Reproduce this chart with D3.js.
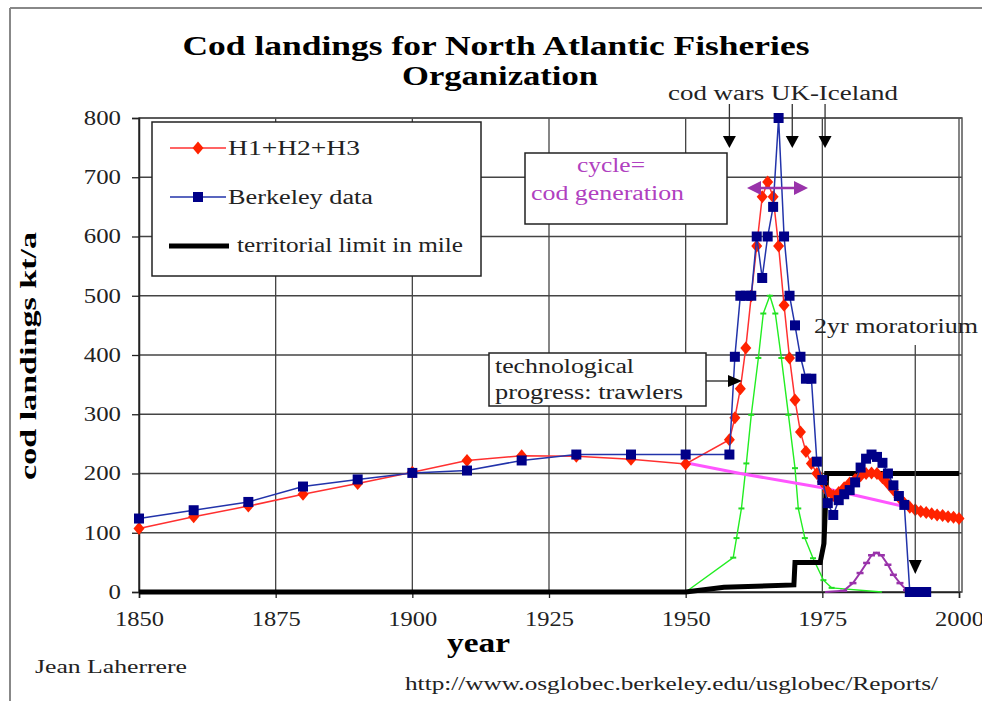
<!DOCTYPE html>
<html><head><meta charset="utf-8">
<script src="https://cdn.jsdelivr.net/npm/d3@7"></script>
<style>body{margin:0;background:#fff}svg{display:block}</style>
</head><body>
<svg id="c" width="982" height="701"></svg>
<script>
// ---------- data ----------
const xTicks = [1850, 1875, 1900, 1925, 1950, 1975, 2000];
const yTicks = [0, 100, 200, 300, 400, 500, 600, 700, 800];

const redYears = [1850,1860,1870,1880,1890,1900,1910,1920,1930,1940,1950,1958,1959,1960,1961,1962,1963,1964,1965,1966,1967,1968,1969,1970,1971,1972,1973,1974,1975,1976,1977,1978,1979,1980,1981,1982,1983,1984,1985,1986,1987,1988,1989,1990,1991,1992,1993,1994,1995,1996,1997,1998,1999,2000];
const redValues = [107,127,145,165,183,202,222,230,229,224,216,257,294,343,412,500,584,667,692,667,584,484,395,324,270,237,217,200,186,170,163,168,176,184,190,196,200,201,200,193,183,172,160,150,143,139,136,134,132,130,129,127,126,124];

const blueYears = [1850,1860,1870,1880,1890,1900,1910,1920,1930,1940,1950,1958,1959,1960,1961,1962,1963,1964,1965,1966,1967,1968,1969,1970,1971,1972,1973,1974,1975,1976,1977,1978,1979,1980,1981,1982,1983,1984,1985,1986,1987,1988,1989,1990,1991,1992,1993,1994];
const blueValues = [124,138,152,178,190,201,205,222,232,232,232,232,397,500,500,500,600,530,600,650,800,600,500,450,397,360,360,220,189,150,130,155,165,172,185,210,225,232,228,218,200,180,162,147,0,0,0,0];

const greenYears = [1950,1958.7,1959.3,1960.2,1961.1,1962.0,1963.3,1964.2,1965.4,1966.4,1967.5,1968.8,1970.0,1970.6,1971.8,1973.3,1975.2,1976.7,1985.9];
const greenValues = [0,58,91,141,217,299,395,470,500,470,395,299,209,141,91,57,20,7,0];

const purpleYears = [1975.5,1978.9,1980.6,1981.9,1983.1,1984.0,1984.9,1985.8,1987.0,1988.0,1989.2,1990.4,1991.5];
const purpleValues = [0,2,15,32,49,62,66,62,46,29,15,3,0];

const pinkYears = [1950,1960,1975,1985,1991];
const pinkValues = [218,200,176,155,142];

const limitYears = [1850,1950,1957,1969.8,1970,1974.6,1975.3,1975.8,2000];
const limitValues = [0,0,8,12,50,50,82,200,200];

const codWarYears = [1958, 1969.5, 1975.5];
const moratoriumYear = 1992;

// ---------- setup ----------
const svg = d3.select('#c');
const SERIF = "'Liberation Serif','Times New Roman',serif";
const x = d3.scaleLinear().domain([1850, 2000]).range([139, 959]);
const y = d3.scaleLinear().domain([0, 800]).range([592, 118]);
const zip = (a, b) => a.map((d, i) => [d, b[i]]);
const line = d3.line().x(d => x(d[0])).y(d => y(d[1]));
function fit(sel, w) { sel.attr('textLength', w).attr('lengthAdjust', 'spacingAndGlyphs'); return sel; }

// page frame
svg.append('line').attr('x1', 10).attr('x2', 982).attr('y1', 8).attr('y2', 8).attr('stroke', '#888').attr('stroke-width', 2);
svg.append('line').attr('x1', 10).attr('x2', 10).attr('y1', 8).attr('y2', 701).attr('stroke', '#888').attr('stroke-width', 2);

// grid
const g = svg.append('g');
g.selectAll('.vg').data(xTicks).join('line')
  .attr('x1', d => x(d)).attr('x2', d => x(d)).attr('y1', y(800)).attr('y2', y(0))
  .attr('stroke', '#444').attr('stroke-width', 1.3);
g.selectAll('.hg').data(yTicks).join('line')
  .attr('x1', x(1850)).attr('x2', x(2000) + 3).attr('y1', d => y(d)).attr('y2', d => y(d))
  .attr('stroke', '#444').attr('stroke-width', 1.3);
g.append('rect').attr('x', x(1850)).attr('y', y(800)).attr('width', x(2000) + 3 - x(1850)).attr('height', y(0) - y(800))
  .attr('fill', 'none').attr('stroke', '#555').attr('stroke-width', 1.5);

// axes
const ax = svg.append('g').attr('transform', `translate(0,${y(0)})`)
  .call(d3.axisBottom(x).tickValues(xTicks).tickFormat(d3.format('d')).tickSize(6).tickPadding(14));
const ay = svg.append('g').attr('transform', `translate(${x(1850)},0)`)
  .call(d3.axisLeft(y).tickValues(yTicks).tickSize(7).tickPadding(11));
[ax, ay].forEach(a => {
  a.select('.domain').attr('stroke', '#222').attr('stroke-width', 1.5);
  a.selectAll('.tick line').attr('stroke', '#222').attr('stroke-width', 1.3);
  a.selectAll('.tick text').attr('font-family', SERIF).attr('font-size', 20).attr('fill', '#222');
});
ax.selectAll('.tick text').each(function () { fit(d3.select(this), 49); });
ay.selectAll('.tick text').each(function (d) { fit(d3.select(this), String(d).length * 12.4); });

// series
const plot = svg.append('g');
// green
plot.append('path').datum(zip(greenYears, greenValues)).attr('d', line)
  .attr('fill', 'none').attr('stroke', '#22ee22').attr('stroke-width', 1.4);
plot.selectAll('.gm').data(zip(greenYears, greenValues).slice(1, -1)).join('line')
  .attr('x1', d => x(d[0]) - 3).attr('x2', d => x(d[0]) + 3).attr('y1', d => y(d[1])).attr('y2', d => y(d[1]))
  .attr('stroke', '#22dd22').attr('stroke-width', 2);
// purple
plot.append('path').datum(zip(purpleYears, purpleValues)).attr('d', line)
  .attr('fill', 'none').attr('stroke', '#9933aa').attr('stroke-width', 2);
plot.selectAll('.pm').data(zip(purpleYears, purpleValues).slice(1, -1)).join('line')
  .attr('x1', d => x(d[0]) - 3.5).attr('x2', d => x(d[0]) + 3.5).attr('y1', d => y(d[1])).attr('y2', d => y(d[1]))
  .attr('stroke', '#9933aa').attr('stroke-width', 2.5);
// pink
plot.append('path').datum(zip(pinkYears, pinkValues)).attr('d', line)
  .attr('fill', 'none').attr('stroke', '#ff55ff').attr('stroke-width', 3);
// territorial limit
plot.append('path').datum(zip(limitYears, limitValues)).attr('d', line)
  .attr('fill', 'none').attr('stroke', '#000').attr('stroke-width', 5).attr('stroke-linejoin', 'miter');
// red
const diamond = 'M0,-6.5L5.5,0L0,6.5L-5.5,0Z';
plot.append('path').datum(zip(redYears, redValues)).attr('d', line)
  .attr('fill', 'none').attr('stroke', '#ff3030').attr('stroke-width', 1.5);
plot.selectAll('.rm').data(zip(redYears, redValues)).join('path')
  .attr('d', diamond).attr('transform', d => `translate(${x(d[0])},${y(d[1])})`).attr('fill', '#ff2200');
// blue
plot.append('path').datum(zip(blueYears, blueValues)).attr('d', line)
  .attr('fill', 'none').attr('stroke', '#2233aa').attr('stroke-width', 1.5);
plot.selectAll('.bm').data(zip(blueYears, blueValues)).join('rect')
  .attr('x', d => x(d[0]) - 5).attr('y', d => y(d[1]) - 5).attr('width', 10).attr('height', 10).attr('fill', '#000088');

// ---------- annotations ----------
function head(gsel, tipX, tipY, dir, len, half, color) {
  let p;
  if (dir === 'down') p = [[tipX, tipY], [tipX - half, tipY - len], [tipX + half, tipY - len]];
  else if (dir === 'right') p = [[tipX, tipY], [tipX - len, tipY - half], [tipX - len, tipY + half]];
  else p = [[tipX, tipY], [tipX + len, tipY - half], [tipX + len, tipY + half]];
  gsel.append('path').attr('d', 'M' + p.join('L') + 'Z').attr('fill', color);
}
const ann = svg.append('g');
// title
fit(ann.append('text').attr('x', 496).attr('y', 55).attr('text-anchor', 'middle').attr('font-family', SERIF)
  .attr('font-weight', 'bold').attr('font-size', 27).text('Cod landings for North Atlantic Fisheries'), 627);
fit(ann.append('text').attr('x', 500).attr('y', 85).attr('text-anchor', 'middle').attr('font-family', SERIF)
  .attr('font-weight', 'bold').attr('font-size', 27).text('Organization'), 196);
// cod wars
fit(ann.append('text').attr('x', 668).attr('y', 100).attr('font-family', SERIF).attr('font-size', 20).attr('fill', '#222')
  .text('cod wars UK-Iceland'), 230);
codWarYears.forEach(yr => {
  const cx = x(yr);
  ann.append('line').attr('x1', cx).attr('x2', cx).attr('y1', 104).attr('y2', 140).attr('stroke', '#333').attr('stroke-width', 1.3);
  head(ann, cx, 148, 'down', 12, 6.5, '#000');
});
// legend
const lg = svg.append('g');
lg.append('rect').attr('x', 152).attr('y', 122).attr('width', 329).attr('height', 154)
  .attr('fill', '#fff').attr('stroke', '#222').attr('stroke-width', 1.5);
lg.append('line').attr('x1', 170).attr('x2', 226).attr('y1', 148).attr('y2', 148).attr('stroke', '#ff3030').attr('stroke-width', 1.5);
lg.append('path').attr('d', diamond).attr('transform', 'translate(198,148)').attr('fill', '#ff2200');
fit(lg.append('text').attr('x', 228).attr('y', 155).attr('font-family', SERIF).attr('font-size', 20).attr('fill', '#222').text('H1+H2+H3'), 132);
lg.append('line').attr('x1', 170).attr('x2', 226).attr('y1', 197).attr('y2', 197).attr('stroke', '#2233aa').attr('stroke-width', 1.5);
lg.append('rect').attr('x', 193).attr('y', 192).attr('width', 10).attr('height', 10).attr('fill', '#000088');
fit(lg.append('text').attr('x', 228).attr('y', 204).attr('font-family', SERIF).attr('font-size', 20).attr('fill', '#222').text('Berkeley data'), 145);
lg.append('line').attr('x1', 169).attr('x2', 229).attr('y1', 246).attr('y2', 246).attr('stroke', '#000').attr('stroke-width', 5);
fit(lg.append('text').attr('x', 237).attr('y', 252).attr('font-family', SERIF).attr('font-size', 20).attr('fill', '#222').text('territorial limit in mile'), 226);
// cycle box
ann.append('rect').attr('x', 525).attr('y', 153).attr('width', 202).attr('height', 71)
  .attr('fill', '#fff').attr('stroke', '#222').attr('stroke-width', 1.5);
fit(ann.append('text').attr('x', 611).attr('y', 172).attr('text-anchor', 'middle').attr('font-family', SERIF).attr('font-size', 20)
  .attr('fill', '#b040c0').text('cycle='), 68);
fit(ann.append('text').attr('x', 531).attr('y', 200).attr('font-family', SERIF).attr('font-size', 20)
  .attr('fill', '#b040c0').text('cod generation'), 153);
// purple double arrow
ann.append('line').attr('x1', 755).attr('x2', 800).attr('y1', 188).attr('y2', 188).attr('stroke', '#9933aa').attr('stroke-width', 2.5);
head(ann, 747, 188, 'left', 14, 7, '#9933aa');
head(ann, 808, 188, 'right', 14, 7, '#9933aa');
// technological box
ann.append('rect').attr('x', 489).attr('y', 353).attr('width', 217).attr('height', 53)
  .attr('fill', '#fff').attr('stroke', '#222').attr('stroke-width', 1.5);
fit(ann.append('text').attr('x', 495).attr('y', 373).attr('font-family', SERIF).attr('font-size', 20).attr('fill', '#222')
  .text('technological'), 139);
fit(ann.append('text').attr('x', 495).attr('y', 399).attr('font-family', SERIF).attr('font-size', 20).attr('fill', '#222')
  .text('progress: trawlers'), 188);
ann.append('line').attr('x1', 706).attr('x2', 732).attr('y1', 381).attr('y2', 381).attr('stroke', '#222').attr('stroke-width', 1.3);
head(ann, 742, 381, 'right', 14, 6, '#000');
// moratorium
fit(ann.append('text').attr('x', 814).attr('y', 333).attr('font-family', SERIF).attr('font-size', 20).attr('fill', '#222')
  .text('2yr moratorium'), 164);
ann.append('line').attr('x1', x(moratoriumYear)).attr('x2', x(moratoriumYear)).attr('y1', 345).attr('y2', 562).attr('stroke', '#444').attr('stroke-width', 1.3);
head(ann, x(moratoriumYear), 574, 'down', 14, 6.5, '#000');
// axis titles
fit(ann.append('text').attr('transform', 'translate(36,356) rotate(-90)').attr('text-anchor', 'middle')
  .attr('font-family', SERIF).attr('font-weight', 'bold').attr('font-size', 24).text('cod landings kt/a'), 248);
fit(ann.append('text').attr('x', 447).attr('y', 652).attr('font-family', SERIF).attr('font-weight', 'bold').attr('font-size', 28)
  .text('year'), 63);
// credits
fit(ann.append('text').attr('x', 35).attr('y', 673).attr('font-family', SERIF).attr('font-size', 18).attr('fill', '#222')
  .text('Jean Laherrere'), 152);
fit(ann.append('text').attr('x', 405).attr('y', 690).attr('font-family', SERIF).attr('font-size', 18).attr('fill', '#222')
  .text('http://www.osglobec.berkeley.edu/usglobec/Reports/'), 533);
</script>
</body></html>
